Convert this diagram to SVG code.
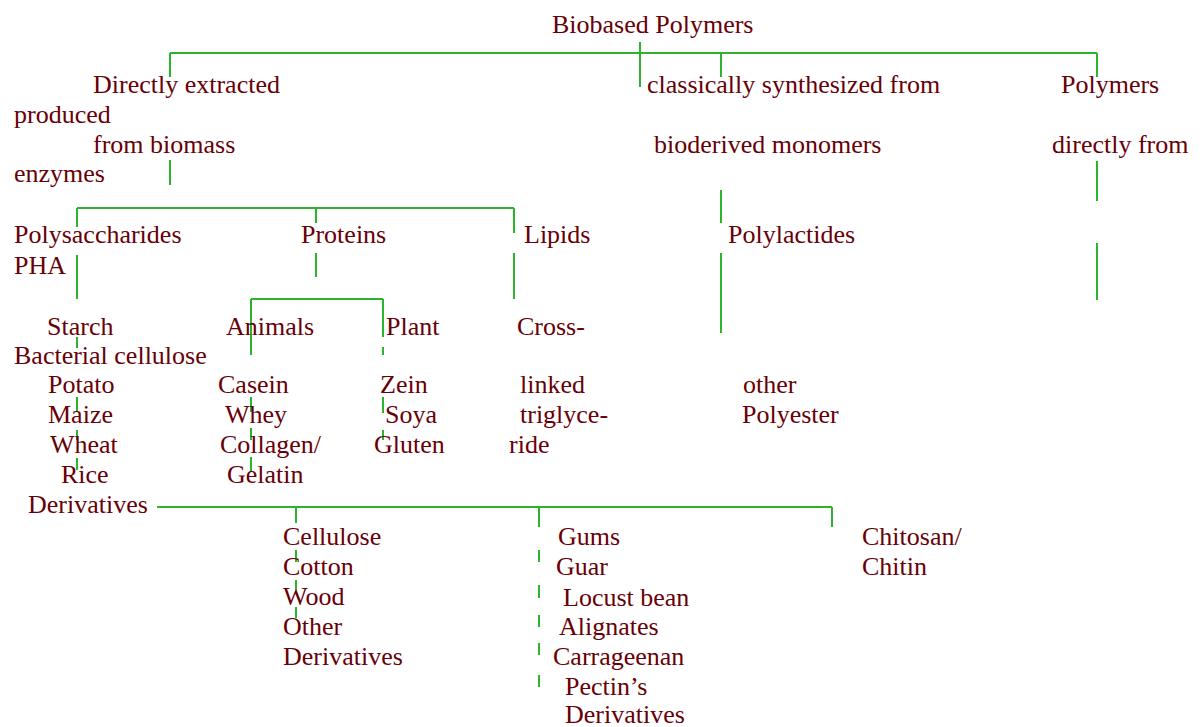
<svg xmlns="http://www.w3.org/2000/svg" width="1200" height="727" viewBox="0 0 1200 727">
<style>
.t{font-family:"Liberation Serif","Times New Roman",serif;font-size:26px;fill:#680008}
.c line{stroke:#2cb52c;stroke-width:2;fill:none}
</style>
<rect width="1200" height="727" fill="#ffffff"/>
<g class="c" id="connectors">
<line x1="170" y1="53" x2="1097" y2="53"/>
<line x1="170" y1="53" x2="170" y2="77"/>
<line x1="640" y1="42" x2="640" y2="87"/>
<line x1="721" y1="53" x2="721" y2="77"/>
<line x1="1097" y1="53" x2="1097" y2="77"/>
<line x1="170" y1="160" x2="170" y2="185"/>
<line x1="721" y1="190" x2="721" y2="223"/>
<line x1="721" y1="253" x2="721" y2="333"/>
<line x1="1097" y1="161" x2="1097" y2="201"/>
<line x1="1097" y1="243" x2="1097" y2="300"/>
<line x1="77" y1="208" x2="514" y2="208"/>
<line x1="77" y1="208" x2="77" y2="227"/>
<line x1="316" y1="208" x2="316" y2="223"/>
<line x1="514" y1="208" x2="514" y2="233"/>
<line x1="77" y1="255" x2="77" y2="299"/>
<line x1="316" y1="253" x2="316" y2="277"/>
<line x1="514" y1="253" x2="514" y2="299"/>
<line x1="251" y1="299" x2="383" y2="299"/>
<line x1="251" y1="299" x2="251" y2="355"/>
<line x1="383" y1="299" x2="383" y2="337"/>
<line x1="383" y1="347" x2="383" y2="355"/>
<line x1="77" y1="337" x2="77" y2="348"/>
<line x1="77" y1="397" x2="77" y2="412"/>
<line x1="77" y1="430" x2="77" y2="440"/>
<line x1="77" y1="458" x2="77" y2="470"/>
<line x1="251" y1="397" x2="251" y2="412"/>
<line x1="251" y1="428" x2="251" y2="440"/>
<line x1="251" y1="457" x2="251" y2="472"/>
<line x1="383" y1="397" x2="383" y2="413"/>
<line x1="383" y1="430" x2="383" y2="440"/>
<line x1="157" y1="507" x2="832" y2="507"/>
<line x1="296" y1="507" x2="296" y2="523"/>
<line x1="539" y1="507" x2="539" y2="527"/>
<line x1="832" y1="507" x2="832" y2="527"/>
<line x1="296" y1="550" x2="296" y2="562"/>
<line x1="296" y1="580" x2="296" y2="590"/>
<line x1="296" y1="607" x2="296" y2="618"/>
<line x1="539" y1="550" x2="539" y2="562"/>
<line x1="539" y1="585" x2="539" y2="598"/>
<line x1="539" y1="615" x2="539" y2="627"/>
<line x1="539" y1="643" x2="539" y2="655"/>
<line x1="539" y1="675" x2="539" y2="687"/>
</g>
<g id="root"><text class="t" x="552" y="33">Biobased Polymers</text></g>
<g id="direct"><text class="t" x="93" y="93">Directly extracted</text><text class="t" x="93" y="153">from biomass</text></g>
<g id="produced"><text class="t" x="14" y="123">produced</text><text class="t" x="14" y="182">enzymes</text></g>
<g id="classical"><text class="t" x="647" y="93">classically synthesized from</text><text class="t" x="654" y="153">bioderived monomers</text></g>
<g id="polymers"><text class="t" x="1061" y="93">Polymers</text><text class="t" x="1052" y="153">directly from</text></g>
<g id="polysaccharides"><text class="t" x="14" y="243">Polysaccharides</text></g>
<g id="pha"><text class="t" x="14" y="274">PHA</text></g>
<g id="proteins"><text class="t" x="301" y="243">Proteins</text></g>
<g id="lipids"><text class="t" x="524" y="243">Lipids</text></g>
<g id="polylactides"><text class="t" x="728" y="243">Polylactides</text></g>
<g id="starch"><text class="t" x="47" y="335">Starch</text><text class="t" x="48" y="393">Potato</text><text class="t" x="48" y="423">Maize</text><text class="t" x="50" y="453">Wheat</text><text class="t" x="61" y="483">Rice</text></g>
<g id="bacterial"><text class="t" x="14" y="364">Bacterial cellulose</text></g>
<g id="animals"><text class="t" x="226" y="335">Animals</text><text class="t" x="218" y="393">Casein</text><text class="t" x="225" y="423">Whey</text><text class="t" x="220" y="453">Collagen/</text><text class="t" x="227" y="483">Gelatin</text></g>
<g id="plant"><text class="t" x="386" y="335">Plant</text><text class="t" x="380" y="393">Zein</text><text class="t" x="385" y="423">Soya</text><text class="t" x="374" y="453">Gluten</text></g>
<g id="crosslinked"><text class="t" x="517" y="335">Cross-</text><text class="t" x="520" y="393">linked</text><text class="t" x="520" y="423">triglyce-</text><text class="t" x="509" y="453">ride</text></g>
<g id="polyester"><text class="t" x="743" y="393">other</text><text class="t" x="742" y="423">Polyester</text></g>
<g id="derivatives"><text class="t" x="28" y="513">Derivatives</text></g>
<g id="cellulose"><text class="t" x="283" y="545">Cellulose</text><text class="t" x="283" y="575">Cotton</text><text class="t" x="283" y="605">Wood</text><text class="t" x="283" y="635">Other</text><text class="t" x="283" y="665">Derivatives</text></g>
<g id="gums"><text class="t" x="558" y="545">Gums</text><text class="t" x="556" y="575">Guar</text><text class="t" x="563" y="606">Locust bean</text><text class="t" x="559" y="635">Alignates</text><text class="t" x="553" y="665">Carrageenan</text><text class="t" x="565" y="695">Pectin’s</text><text class="t" x="565" y="723">Derivatives</text></g>
<g id="chitosan"><text class="t" x="862" y="545">Chitosan/</text><text class="t" x="862" y="575">Chitin</text></g>
</svg>
